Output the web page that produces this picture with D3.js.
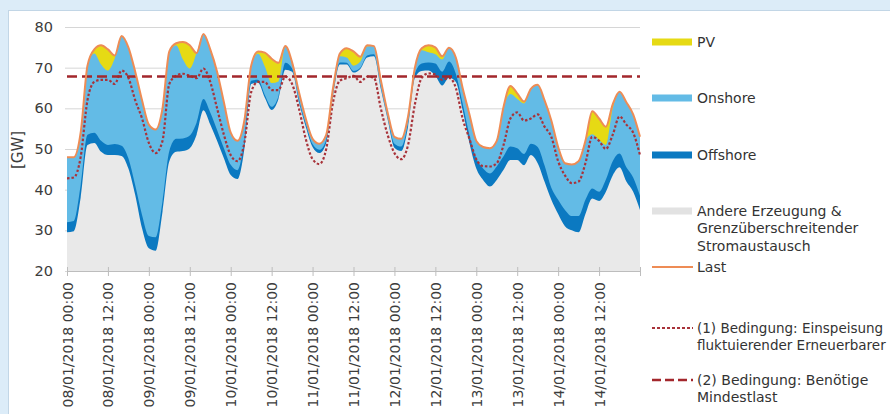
<!DOCTYPE html>
<html><head><meta charset="utf-8">
<script src="https://cdn.jsdelivr.net/npm/d3@7"></script>
<style>
html,body{margin:0;padding:0;background:#dcecf8;}
svg{display:block;font-family:"DejaVu Sans",Verdana,sans-serif;}
</style></head><body>
<svg id="chart" width="890" height="414"></svg>
<script>
// ---- data (GW), every 2 hours from 08/01/2018 00:00 to 15/01/2018 00:00 ----
const hours = d3.range(0, 169, 2);
const andere = [
 29.5, 29.8, 38.0, 51.0, 51.5, 49.3, 48.5, 48.5, 48.3, 45.2, 38.7, 30.5, 25.6,
 25.0, 34.6, 47.0, 49.3, 49.5, 50.2, 53.5, 59.5, 56.0, 52.0, 47.7, 43.6,
 42.6, 50.0, 66.0, 66.3, 62.6, 59.6, 62.3, 69.5, 69.0, 61.5, 55.5, 50.5,
 49.0, 51.5, 63.0, 70.8, 70.8, 68.8, 69.7, 72.5, 72.8, 64.8, 57.3, 50.3,
 49.5, 55.5, 67.5, 69.2, 69.3, 68.0, 65.6, 67.5, 66.5, 59.5, 51.4, 45.2,
 42.4, 40.8, 42.4, 44.9, 47.3, 47.3, 46.0, 48.5, 46.5, 42.0, 37.5, 34.0,
 31.0, 30.0, 29.5, 34.0, 37.8, 37.2, 39.5, 43.5, 45.5, 42.0, 39.5, 35.0];
const offshore = [
 2.5, 2.5, 3.0, 2.5, 2.5, 2.7, 2.5, 2.7, 2.5, 2.5, 2.4, 3.3, 3.0,
 3.3, 2.5, 2.5, 3.2, 3.1, 3.1, 3.0, 2.8, 3.0, 2.7, 2.5, 2.5,
 2.2, 2.0, 0.8, 0.7, 0.7, 0.8, 0.7, 1.7, 0.8, 0.7, 0.7, 0.7,
 0.8, 0.8, 0.7, 0.5, 0.4, 0.4, 0.3, 0.5, 0.5, 0.5, 0.5, 1.0,
 1.1, 1.0, 1.0, 1.8, 2.0, 3.0, 3.4, 4.0, 2.0, 1.7, 2.0, 2.5,
 2.8, 3.2, 3.3, 3.3, 3.3, 2.9, 2.8, 2.8, 4.0, 4.0, 3.0, 3.5,
 4.0, 3.5, 4.0, 3.5, 2.5, 2.3, 3.0, 3.5, 3.4, 3.5, 3.5, 3.5];
const onshore = [
 16.0, 15.7, 13.0, 17.0, 19.5, 18.8, 18.3, 21.1, 27.0, 27.3, 27.9, 28.2, 27.4,
 26.5, 22.9, 24.5, 23.0, 19.4, 16.5, 17.1, 16.0, 15.5, 14.3, 11.3, 7.9,
 7.2, 5.0, 3.7, 6.4, 7.0, 5.8, 3.6, 4.1, 1.5, 1.8, 1.3, 1.3,
 1.5, 1.2, 1.3, 1.5, 1.3, 1.3, 1.5, 2.2, 2.0, 1.7, 1.2, 1.7,
 1.9, 1.5, 1.3, 3.3, 2.5, 2.3, 3.0, 3.4, 4.0, 3.8, 5.1, 4.3,
 5.3, 6.2, 6.3, 12.2, 12.9, 12.1, 12.4, 13.5, 15.3, 16.0, 16.5, 13.0,
 11.5, 12.7, 13.5, 14.5, 13.3, 12.7, 8.5, 13.0, 15.2, 16.0, 15.5, 14.5];
const pv = [
 0, 0, 0, 0, 1.0, 4.7, 5.2, 0.7, 0, 0, 0, 0, 0,
 0, 0, 0, 0.5, 4.3, 5.7, 0, 0, 0, 0, 0, 0,
 0, 0, 0, 0.6, 3.4, 6.0, 4.6, 0, 0, 0, 0, 0,
 0, 0, 0, 0.7, 2.3, 3.5, 1.2, 0.3, 0, 0, 0, 0,
 0, 0, 0.2, 0.5, 1.7, 1.7, 0.8, 0, 0, 0, 0, 0,
 0, 0, 0, 0, 2.0, 1.4, 0.5, 0, 0, 0, 0, 0,
 0, 0, 0, 0, 5.7, 5.3, 4.5, 1.0, 0, 0, 0, 0];
const last = [
 48.0, 48.0, 54.0, 70.5, 74.5, 75.5, 74.5, 73.0, 77.8, 75.0, 69.0, 62.0, 56.0,
 54.8, 60.0, 74.0, 76.0, 76.3, 75.5, 73.6, 78.3, 74.5, 69.0, 61.5, 54.0,
 52.0, 57.0, 70.5, 74.0, 73.7, 72.2, 71.2, 75.3, 71.3, 64.0, 57.5, 52.5,
 51.3, 53.5, 65.0, 73.5, 74.8, 74.0, 72.7, 75.5, 75.3, 67.0, 59.0, 53.0,
 52.5, 58.0, 70.0, 74.8, 75.5, 75.0, 72.8, 74.9, 72.5, 65.0, 58.5, 52.0,
 50.5, 50.2, 52.0, 60.4, 65.5, 63.7, 61.7, 64.8, 65.8, 62.0, 57.0, 50.5,
 46.5, 46.2, 47.0, 52.0, 59.3, 57.5, 55.5, 61.0, 64.1, 61.5, 58.5, 53.0];
const bedingung1 = [
 42.8, 43.0, 48.0, 62.0, 66.5, 67.0, 67.0, 66.0, 69.3, 67.5, 62.0, 57.5, 51.5,
 49.0, 52.0, 66.0, 68.0, 68.5, 68.0, 67.4, 69.8, 66.5, 60.0, 53.5, 48.5,
 47.0, 51.5, 64.0, 66.5, 66.5, 64.5, 64.5, 67.8, 66.0, 60.0, 52.5, 47.5,
 46.3, 50.0, 61.5, 66.8, 67.4, 68.0, 66.5, 67.8, 67.5, 60.0, 53.5, 49.0,
 47.5, 51.0, 61.0, 67.5, 68.6, 68.3, 67.0, 67.5, 65.0, 57.5, 52.5, 47.5,
 45.8, 45.7, 46.5, 51.0, 57.5, 59.0, 57.0, 57.5, 58.5, 55.5, 53.0, 47.0,
 43.5, 41.6, 42.0, 46.5, 53.0, 52.0, 50.0, 53.5, 58.0, 56.0, 54.0, 48.5];
const bedingung2 = 67.8;
const yTicks = [20, 30, 40, 50, 60, 70, 80];
const tickHours = [0, 12, 24, 36, 48, 60, 72, 84, 96, 108, 120, 132, 144, 156, 168];
const tickLabels = ["08/01/2018 00:00","08/01/2018 12:00","09/01/2018 00:00","09/01/2018 12:00",
 "10/01/2018 00:00","10/01/2018 12:00","11/01/2018 00:00","11/01/2018 12:00",
 "12/01/2018 00:00","12/01/2018 12:00","13/01/2018 00:00","13/01/2018 12:00",
 "14/01/2018 00:00","14/01/2018 12:00"];
const seriesKeys = ["andere", "offshore", "onshore", "pv"];
const legendLabels = {
  pv: ["PV"], onshore: ["Onshore"], offshore: ["Offshore"],
  andere: ["Andere Erzeugung &", "Grenzüberschreitender", "Stromaustausch"],
  last: ["Last"],
  b1: ["(1) Bedingung: Einspeisung", "fluktuierender Erneuerbarer"],
  b2: ["(2) Bedingung: Benötige", "Mindestlast"]
};

// ---- styles ----
const colors = {andere:"#e9e9e9", offshore:"#0b79c1", onshore:"#63bbe6", pv:"#e6da14",
  last:"#ee8c55", b1:"#a8333a", b2:"#a3272c"};

const svg = d3.select("#chart");
svg.append("rect").attr("width",890).attr("height",414).attr("fill","#dcecf8");
svg.append("rect").attr("x",8.5).attr("y",10.5).attr("width",900).attr("height",420)
  .attr("fill","#ffffff").attr("stroke","#c2d6e6");

const x = d3.scaleLinear().domain([0,168]).range([67,640]);
const y = d3.scaleLinear().domain([20,80]).range([271,27]);

// grid + y labels
const yAxis = svg.append("g").attr("transform","translate(67,0)")
  .call(d3.axisLeft(y).tickValues(yTicks).tickSize(-(640-67)).tickPadding(14));
yAxis.select(".domain").remove();
yAxis.selectAll(".tick line").attr("stroke","#d6d6d6").attr("x1",-2);
yAxis.selectAll(".tick text").attr("fill","#3c3c3c").style("font-size","14.5px")
  .style("font-family",'"DejaVu Sans",Verdana,sans-serif');

svg.append("text").attr("transform","translate(23,150) rotate(-90)")
  .attr("text-anchor","middle").attr("fill","#3c3c3c").style("font-size","15px").text("[GW]");

// stacked areas
const rows = hours.map((h,i)=>({h, andere:andere[i], offshore:offshore[i], onshore:onshore[i], pv:pv[i]}));
const stacked = d3.stack().keys(seriesKeys)(rows);
const area = d3.area().x(d=>x(d.data.h)).y0(y(20)).y1(d=>y(d[1])).curve(d3.curveMonotoneX);
const plot = svg.append("g");
plot.selectAll("path.layer").data(stacked.slice().reverse()).join("path")
  .attr("class","layer").attr("fill",d=>colors[d.key]).attr("d",area);

// x axis
const xAxis = svg.append("g").attr("transform",`translate(0,${y(20)})`)
  .call(d3.axisBottom(x).tickValues(tickHours).tickSize(5)
    .tickFormat((d,i)=> i < tickLabels.length ? tickLabels[i] : ""));
xAxis.select(".domain").attr("stroke","#bdbdbd");
xAxis.selectAll(".tick line").attr("stroke","#bdbdbd").attr("y1",-4);
xAxis.selectAll(".tick text").attr("transform","rotate(-90)").attr("x",-11).attr("y",0)
  .attr("dy","0.36em").style("text-anchor","end").attr("fill","#3c3c3c")
  .style("font-size","14px").style("font-family",'"DejaVu Sans",Verdana,sans-serif');

// lines
const line = d3.line().x((d,i)=>x(hours[i])).y(d=>y(d)).curve(d3.curveMonotoneX);
plot.append("path").datum(bedingung1).attr("d",line).attr("fill","none")
  .attr("stroke",colors.b1).attr("stroke-width",2.2).attr("stroke-dasharray","2.5,2");
plot.append("line").attr("x1",x(0)).attr("x2",x(168)).attr("y1",y(bedingung2)).attr("y2",y(bedingung2))
  .attr("stroke",colors.b2).attr("stroke-width",2.5).attr("stroke-dasharray","10,5");
plot.append("path").datum(last).attr("d",line).attr("fill","none")
  .attr("stroke",colors.last).attr("stroke-width",2);

// legend
const legendItems = [
  {key:"pv", kind:"rect", cy:42, fs:14},
  {key:"onshore", kind:"rect", cy:98, fs:14},
  {key:"offshore", kind:"rect", cy:155, fs:14},
  {key:"andere", kind:"rect", cy:211, fs:14},
  {key:"last", kind:"line", cy:267, fs:14},
  {key:"b1", kind:"dot", cy:328, fs:13.5},
  {key:"b2", kind:"dash", cy:380, fs:14}
];
const lg = svg.append("g");
legendItems.forEach(it=>{
  if (it.kind==="rect") {
    lg.append("rect").attr("x",652).attr("y",it.cy-3.5).attr("width",40).attr("height",7)
      .attr("fill", it.key==="andere" ? "#e2e2e2" : colors[it.key]);
  } else {
    const l = lg.append("line").attr("x1",652).attr("x2",693).attr("y1",it.cy).attr("y2",it.cy)
      .attr("stroke",colors[it.key]).attr("stroke-width",2);
    if (it.kind==="dot") l.attr("stroke-dasharray","3,2");
    if (it.kind==="dash") l.attr("stroke-dasharray","9,4").attr("stroke-width",2.5);
  }
  const t = lg.append("text").attr("x",697).attr("y",it.cy).attr("fill","#333")
    .style("font-size",it.fs+"px");
  legendLabels[it.key].forEach((s,j)=>{
    t.append("tspan").attr("x",697).attr("y",it.cy + j*17.5).attr("dy","0.35em").text(s);
  });
});
</script>
</body></html>
